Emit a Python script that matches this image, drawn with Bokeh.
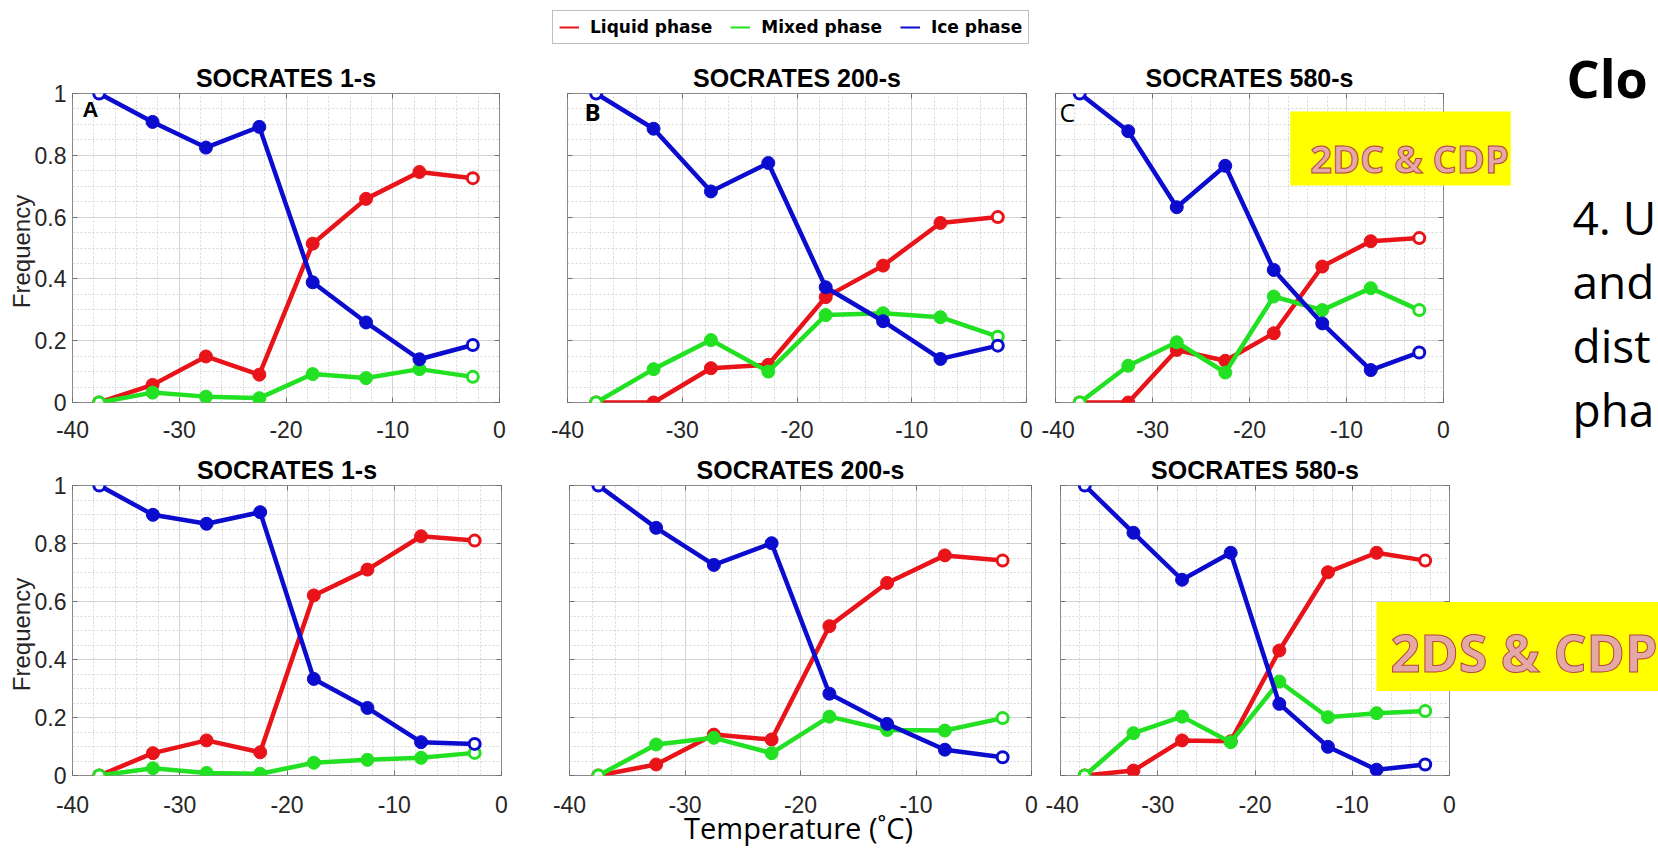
import numpy as np
from bokeh.plotting import figure
from bokeh.models import (Range1d, FixedTicker, LinearAxis, Label, Legend, LegendItem,
                          CustomJSTickFormatter)
from bokeh.layouts import row, column
from bokeh.embed import file_html
from bokeh.resources import INLINE

# ---------------- data ----------------
TEMP = [-37.5, -32.5, -27.5, -22.5, -17.5, -12.5, -7.5, -2.5]
X_TICKS = [-40, -30, -20, -10, 0]
Y_TICKS = [0, 0.2, 0.4, 0.6, 0.8, 1]
TITLES = ["SOCRATES 1-s", "SOCRATES 200-s", "SOCRATES 580-s"]
SERIES_NAMES = ["Liquid phase", "Mixed phase", "Ice phase"]
PANEL_LETTERS = ["A", "B", "C"]

# top row: 2DC & CDP
LIQ_2DC_1S = [0.0, 0.057, 0.149, 0.090, 0.514, 0.659, 0.746, 0.726]
MIX_2DC_1S = [0.0, 0.032, 0.019, 0.014, 0.092, 0.079, 0.108, 0.083]
ICE_2DC_1S = [1.0, 0.908, 0.825, 0.892, 0.389, 0.259, 0.140, 0.186]
LIQ_2DC_200S = [0.0, 0.0, 0.111, 0.122, 0.341, 0.443, 0.581, 0.600]
MIX_2DC_200S = [0.0, 0.108, 0.202, 0.100, 0.283, 0.289, 0.276, 0.213]
ICE_2DC_200S = [1.0, 0.886, 0.683, 0.775, 0.373, 0.263, 0.141, 0.184]
LIQ_2DC_580S = [0.0, 0.0, 0.170, 0.135, 0.224, 0.440, 0.522, 0.532]
MIX_2DC_580S = [0.0, 0.119, 0.195, 0.097, 0.343, 0.299, 0.370, 0.299]
ICE_2DC_580S = [1.0, 0.878, 0.632, 0.766, 0.429, 0.256, 0.105, 0.162]
# bottom row: 2DS & CDP
LIQ_2DS_1S = [0.0, 0.077, 0.121, 0.080, 0.621, 0.710, 0.825, 0.810]
MIX_2DS_1S = [0.0, 0.025, 0.009, 0.006, 0.044, 0.054, 0.061, 0.078]
ICE_2DS_1S = [1.0, 0.899, 0.868, 0.908, 0.333, 0.233, 0.115, 0.109]
LIQ_2DS_200S = [0.0, 0.038, 0.141, 0.124, 0.515, 0.664, 0.759, 0.741]
MIX_2DS_200S = [0.0, 0.107, 0.130, 0.077, 0.203, 0.157, 0.155, 0.198]
ICE_2DS_200S = [1.0, 0.854, 0.726, 0.801, 0.282, 0.178, 0.089, 0.063]
LIQ_2DS_580S = [0.0, 0.017, 0.121, 0.118, 0.431, 0.701, 0.768, 0.741]
MIX_2DS_580S = [0.0, 0.146, 0.203, 0.115, 0.324, 0.201, 0.215, 0.222]
ICE_2DS_580S = [1.0, 0.837, 0.675, 0.768, 0.247, 0.099, 0.020, 0.038]

TOP_SERIES = [(LIQ_2DC_1S, MIX_2DC_1S, ICE_2DC_1S),
              (LIQ_2DC_200S, MIX_2DC_200S, ICE_2DC_200S),
              (LIQ_2DC_580S, MIX_2DC_580S, ICE_2DC_580S)]
BOT_SERIES = [(LIQ_2DS_1S, MIX_2DS_1S, ICE_2DS_1S),
              (LIQ_2DS_200S, MIX_2DS_200S, ICE_2DS_200S),
              (LIQ_2DS_580S, MIX_2DS_580S, ICE_2DS_580S)]

SLIDE_HEAD = "Clo"
SLIDE_LINES = ["4. U", "and", "dist", "pha"]
BOX_TOP = "2DC & CDP"
BOX_BOT = "2DS & CDP"
X_LABEL = "Temperature (˚C)"
Y_LABEL = "Frequency"

# ---------------- style ----------------
W, H = 1658, 848
RED = "#E8141A"
GREEN = "#22E022"
BLUE = "#0C0CCF"
COLORS = [RED, GREEN, BLUE]
AX_FONT = "Liberation Sans"
SLIDE_FONT = "Open Sans"
X_MINOR = list(range(-40, 1, 2))
Y_MINOR = [round(float(v), 2) for v in np.arange(0, 1.0001, 0.05)]
HAS_OUTLINE = "text_outline_color" in Label.properties()


def add_text(p, text, x, y, size, font=SLIDE_FONT, style="normal", align="left",
             baseline="alphabetic", color="black", angle=0.0, **kw):
    lab = Label(x=x, y=y, x_units="screen", y_units="screen", text=text,
                text_font=font, text_font_size=f"{size}px", text_font_style=style,
                text_align=align, text_baseline=baseline, text_color=color,
                angle=angle, **kw)
    p.add_layout(lab)
    return lab


def make_panel(title, series, fw, fh, bl, br, bt, bb, ylabels, xstandoff):
    p = figure(frame_width=fw, frame_height=fh, min_border_left=bl, min_border_right=br,
               min_border_top=bt, min_border_bottom=bb,
               x_range=Range1d(-40, 0), y_range=Range1d(0, 1),
               output_backend="svg", toolbar_location=None, tools="")
    p.outline_line_color = "#8a8a8a"
    p.background_fill_color = "white"
    p.border_fill_color = "white"

    xt = FixedTicker(ticks=X_TICKS, minor_ticks=X_MINOR)
    yt = FixedTicker(ticks=Y_TICKS, minor_ticks=Y_MINOR)
    xa = p.below[0]
    ya = p.left[0]
    xa.ticker = xt
    ya.ticker = yt
    p.xgrid[0].ticker = xt
    p.ygrid[0].ticker = yt
    xa.formatter = CustomJSTickFormatter(code="return String(tick)")
    if ylabels:
        ya.formatter = CustomJSTickFormatter(code="return String(Math.round(tick*100)/100)")
    else:
        ya.formatter = CustomJSTickFormatter(code="return ''")
    for ax in (xa, ya):
        ax.axis_line_color = None
        ax.major_tick_in = 5
        ax.major_tick_out = 0
        ax.minor_tick_in = 0
        ax.minor_tick_out = 0
        ax.major_tick_line_color = "#6e6e6e"
        ax.major_label_text_font = AX_FONT
        ax.major_label_text_font_size = "23px"
        ax.major_label_text_color = "#262626"
    xa.major_label_standoff = xstandoff
    ya.major_label_standoff = 6

    for g in (p.xgrid[0], p.ygrid[0]):
        g.grid_line_color = "#d3d3d3"
        g.grid_line_width = 1
        g.minor_grid_line_color = "#d6d6d6"
        g.minor_grid_line_dash = "2 2"
        g.minor_grid_line_width = 1

    p.title.text = title
    p.title.align = "center"
    p.title.text_font = AX_FONT
    p.title.text_font_size = "25px"
    p.title.text_font_style = "bold"
    p.title.text_color = "black"
    p.title.standoff = 4

    for vals, col in zip(series, COLORS):
        p.line(TEMP, vals, line_color=col, line_width=4.5)
        p.scatter(TEMP[1:-1], vals[1:-1], size=13, marker="circle",
                  fill_color=col, line_color=col)
        p.scatter([TEMP[0], TEMP[-1]], [vals[0], vals[-1]], size=11, marker="circle",
                  fill_color="white", line_color=col, line_width=3)

    ax_r = LinearAxis(ticker=yt, formatter=CustomJSTickFormatter(code="return ''"),
                      major_tick_in=5, major_tick_out=0, minor_tick_in=0, minor_tick_out=0,
                      major_label_standoff=0, axis_line_color=None,
                      major_tick_line_color="#6e6e6e")
    p.add_layout(ax_r, "right")
    ax_t = LinearAxis(ticker=xt, formatter=CustomJSTickFormatter(code="return ''"),
                      major_tick_in=5, major_tick_out=0, minor_tick_in=0, minor_tick_out=0,
                      major_label_standoff=0, axis_line_color=None,
                      major_tick_line_color="#6e6e6e")
    p.add_layout(ax_t, "above")
    return p


# ---------------- legend strip ----------------
LF_H = 58
lf = figure(width=W, height=LF_H, min_border=0, title=None,
            x_axis_location=None, y_axis_location=None,
            x_range=Range1d(0, 1), y_range=Range1d(0, 1),
            toolbar_location=None, tools="", output_backend="svg")
lf.outline_line_color = None
lf.grid.visible = False
leg_r = [lf.line([0, 1], [-5, -5], line_color=c, line_width=2) for c in COLORS]
leg = Legend(items=[LegendItem(label=n, renderers=[r]) for n, r in zip(SERIES_NAMES, leg_r)],
             orientation="horizontal", location=(552, 14))
leg.label_text_font = "DejaVu Sans"
leg.label_text_font_size = "17px"
leg.label_text_font_style = "bold"
leg.label_text_color = "black"
leg.padding = 6
leg.spacing = 18
leg.label_standoff = 11
leg.glyph_width = 20
leg.glyph_height = 20
leg.margin = 0
leg.border_line_color = "#7f7f7f"
leg.border_line_width = 1
lf.add_layout(leg, "center")

# ---------------- top row (2DC & CDP) ----------------
TOP_FH = 309
top_specs = [(427, 72, 30), (459, 38, 15), (388, 14, 215)]
top_figs = []
for i, (fw, bl, br) in enumerate(top_specs):
    top_figs.append(make_panel(TITLES[i], TOP_SERIES[i], fw, TOP_FH, bl, br, 35, 48,
                               i == 0, 18))

add_text(top_figs[0], PANEL_LETTERS[0], 10, TOP_FH - 3, 22, font=AX_FONT, style="bold",
         baseline="top")
add_text(top_figs[1], PANEL_LETTERS[1], 17, TOP_FH - 1, 24, style="bold", baseline="top")
add_text(top_figs[2], PANEL_LETTERS[2], 4, TOP_FH - 1, 25, baseline="top")

# ---------------- bottom row (2DS & CDP) ----------------
BOT_FH = 290
bot_specs = [(429, 72, 30), (462, 38, 14), (389, 15, 209)]
bot_figs = []
for i, (fw, bl, br) in enumerate(bot_specs):
    bot_figs.append(make_panel(TITLES[i], BOT_SERIES[i], fw, BOT_FH, bl, br, 35, 73,
                               i == 0, 20))

main = column(lf, row(*top_figs), row(*bot_figs))
main.styles = {"position": "absolute", "left": "0px", "top": "0px"}

# ---------------- overlay for texts outside the plot frames ----------------
ov = figure(width=W, height=H, min_border=0, title=None,
            x_axis_location=None, y_axis_location=None,
            x_range=Range1d(0, 1), y_range=Range1d(0, 1),
            toolbar_location=None, tools="", output_backend="svg")
ov.outline_line_color = None
ov.background_fill_alpha = 0
ov.border_fill_alpha = 0
ov.grid.visible = False
ov.styles = {"position": "absolute", "left": "0px", "top": "0px", "z-index": "10"}


def put(text, px, py, size, **kw):
    return add_text(ov, text, px, H - py, size, **kw)


box_kw = dict(style="bold", baseline="middle", background_fill_color="#FFFF00")
if HAS_OUTLINE:
    box_kw.update(color="#E3A9A7", text_outline_color="#B9433F")
else:
    box_kw.update(color="#C85A58")

put(Y_LABEL, 21, 251, 24, font=AX_FONT, align="center", baseline="middle",
    color="#262626", angle=np.pi / 2)
put(Y_LABEL, 21, 634, 24, font=AX_FONT, align="center", baseline="middle",
    color="#262626", angle=np.pi / 2)
put(X_LABEL, 798, 827, 29, align="center", baseline="middle")

put(BOX_TOP, 1400, 148, 38, align="center", padding=(20, 2, 20, 2), **box_kw)
put(BOX_BOT, 1376, 646, 52, align="left", padding=(14, 300, 14, 4), **box_kw)

put(SLIDE_HEAD, 1566, 77, 52, style="bold")
for t, yb in zip(SLIDE_LINES, [216, 280, 344, 408]):
    put(t, 1572, yb, 46)

open("out.html", "w").write(file_html([main, ov], INLINE))
